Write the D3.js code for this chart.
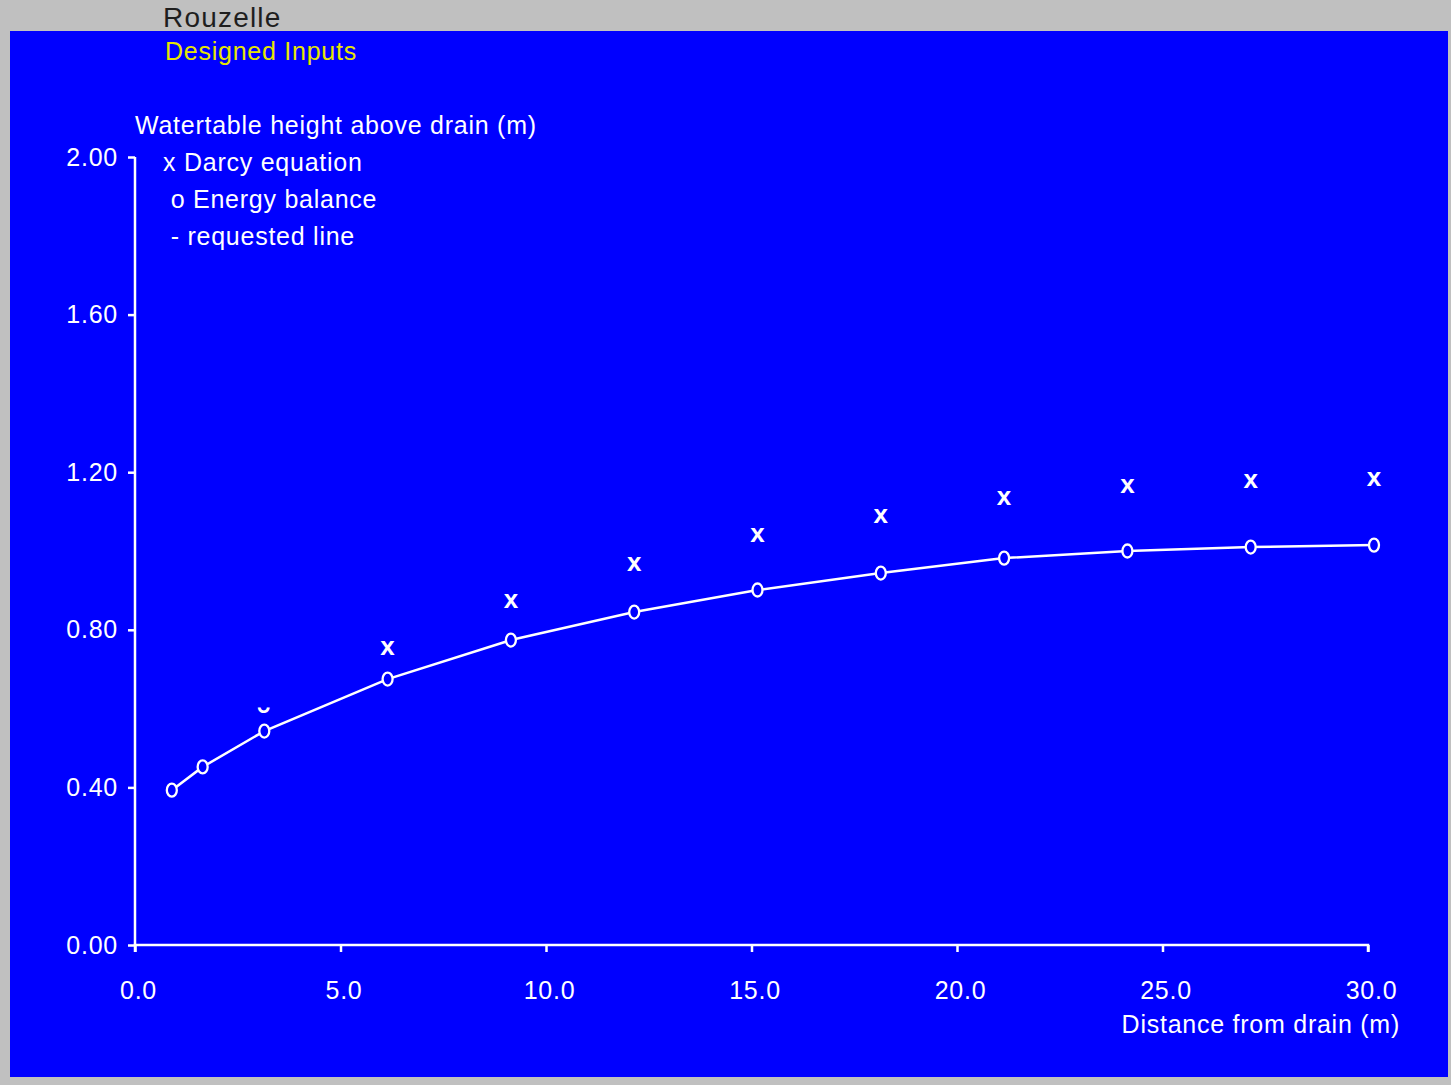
<!DOCTYPE html>
<html lang="en">
<head>
    <meta charset="UTF-8">
    <script src="https://d3js.org/d3.v7.min.js"></script>
    <title>Rouzelle</title>
    <style>
        body {
            margin: 0;
            background: #c0c0c0;
            font-family: "Liberation Sans", Arial, sans-serif;
        }
        text {
            font-size: 25px;
            letter-spacing: 0.75px;
        }
    </style>
</head>
<body>
<div id="my_dataviz"></div>
<script>

    // data
    var distance = [0.75, 1.5, 3, 6, 9, 12, 15, 18, 21, 24, 27, 30];
    var energyBalance = [0.393, 0.452, 0.543, 0.675, 0.774, 0.845, 0.901, 0.944, 0.982, 1.000, 1.010, 1.015];
    var darcyDistance = [3, 6, 9, 12, 15, 18, 21, 24, 27, 30];
    var darcy = [0.60, 0.756, 0.876, 0.970, 1.043, 1.091, 1.137, 1.168, 1.180, 1.185];
    var darcyGlyph = ["\u02d8", "x", "x", "x", "x", "x", "x", "x", "x", "x"];
    var xTicks = [0, 5, 10, 15, 20, 25, 30];
    var yTicks = [0, 0.4, 0.8, 1.2, 1.6, 2.0];
    var legendItems = ["x Darcy equation", " o Energy balance", " - requested line"];

    var W = 1451, H = 1085;
    var margin = {top: 157, left: 135, right: 83, bottom: 140};
    var width = W - margin.left - margin.right,
        height = H - margin.top - margin.bottom;

    var root = d3.select("#my_dataviz")
        .append("svg")
        .attr("width", W)
        .attr("height", H);

    // grey window + blue panel
    root.append("rect").attr("width", W).attr("height", H).attr("fill", "#c0c0c0");
    root.append("rect")
        .attr("x", 10).attr("y", 31)
        .attr("width", 1438).attr("height", 1046)
        .attr("fill", "#0000ff");

    root.append("text")
        .attr("x", 163).attr("y", 27)
        .attr("fill", "#1e1e1e")
        .style("font-size", "28px")
        .style("letter-spacing", "1.2px")
        .text("Rouzelle");
    root.append("text")
        .attr("x", 165).attr("y", 60)
        .attr("fill", "#e6e600")
        .text("Designed Inputs");

    var svg = root.append("g")
        .attr("transform", "translate(" + margin.left + "," + margin.top + ")");

    var x = d3.scaleLinear().domain([0, 30]).range([0, width]);
    var y = d3.scaleLinear().domain([0, 2]).range([height, 0]);

    // X axis
    var xAxis = svg.append("g")
        .attr("transform", "translate(0," + height + ")")
        .call(d3.axisBottom(x).tickValues(xTicks).tickFormat(d3.format(".1f")).tickSize(7).tickPadding(29));
    // Y axis
    var yAxis = svg.append("g")
        .call(d3.axisLeft(y).tickValues(yTicks).tickFormat(d3.format(".2f")).tickSize(7).tickPadding(10));

    [xAxis, yAxis].forEach(function(a) {
        a.select(".domain").attr("stroke", "#fff").attr("stroke-width", 2.5);
        a.selectAll(".tick line").attr("stroke", "#fff").attr("stroke-width", 2.5);
        a.selectAll(".tick text").attr("fill", "#fff").style("font-size", "25px").attr("font-family", null);
    });
    xAxis.selectAll(".tick text").attr("dx", 3);
    // Y axis line without outer tick
    yAxis.select(".domain").attr("d", "M0," + height + "V0");
    xAxis.select(".domain").attr("d", "M0,7V0H" + width + "V7");

    svg.append("text")
        .attr("x", 0).attr("y", -23)
        .attr("fill", "#fff")
        .text("Watertable height above drain (m)");

    svg.append("text")
        .attr("x", width + 32).attr("y", height + 88)
        .attr("text-anchor", "end")
        .attr("fill", "#fff")
        .text("Distance from drain (m)");

    // legend
    svg.selectAll(".legend")
        .data(legendItems)
        .enter().append("text")
        .attr("x", 28)
        .attr("y", function(d, i) { return 14 + i * 37; })
        .attr("fill", "#fff")
        .attr("xml:space", "preserve")
        .style("white-space", "pre")
        .text(function(d) { return d; });

    // series are drawn a few px right of the point, as the glyphs were
    var plot = svg.append("g").attr("transform", "translate(6,0)");

    var energy = distance.map(function(d, i) { return {x: d, y: energyBalance[i]}; });

    plot.append("path")
        .datum(energy)
        .attr("fill", "none")
        .attr("stroke", "#fff")
        .attr("stroke-width", 2.5)
        .attr("d", d3.line()
            .x(function(d) { return x(d.x); })
            .y(function(d) { return y(d.y); })
        );

    plot.selectAll(".o")
        .data(energy)
        .enter().append("ellipse")
        .attr("cx", function(d) { return x(d.x); })
        .attr("cy", function(d) { return y(d.y); })
        .attr("rx", 5).attr("ry", 6.5)
        .attr("fill", "#0000ff")
        .attr("stroke", "#fff")
        .attr("stroke-width", 2.3);

    plot.selectAll(".x")
        .data(darcyDistance)
        .enter().append("text")
        .attr("x", function(d) { return x(d); })
        .attr("y", function(d, i) { return y(darcy[i]); })
        .attr("dy", function(d, i) { return i === 0 ? "0.68em" : "0.3em"; })
        .attr("text-anchor", "middle")
        .attr("fill", "#fff")
        .style("font-size", function(d, i) { return i === 0 ? "34px" : "26px"; })
        .style("font-weight", "bold")
        .style("letter-spacing", "0px")
        .text(function(d, i) { return darcyGlyph[i]; });

</script>
</body>
</html>
